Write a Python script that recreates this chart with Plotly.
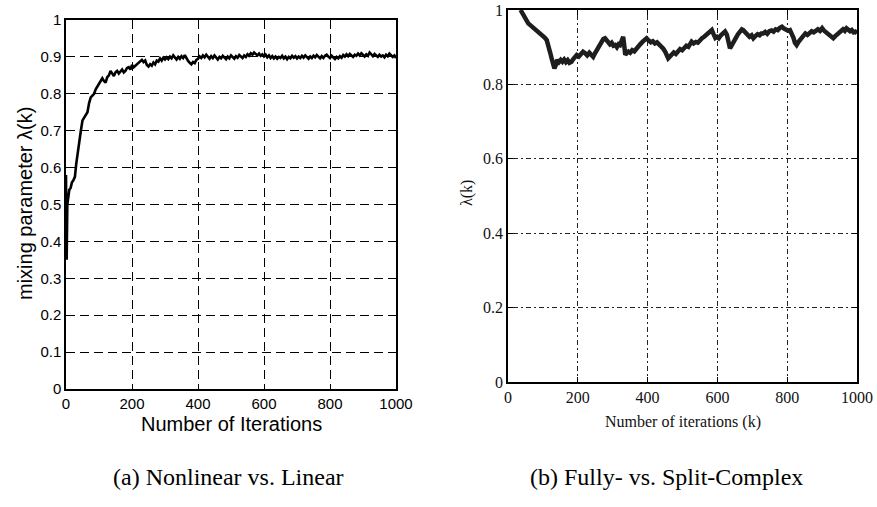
import plotly.graph_objects as go

# ---------------- data: (a) Nonlinear vs. Linear ----------------
left_k = [0, 2, 4, 7, 10, 14, 18, 22, 27, 31, 35, 40, 45, 50, 55, 60, 65, 70, 75, 80,
          85, 90, 95, 100, 105, 110, 115, 120, 125, 130, 135, 140, 145, 150, 155, 160,
          165, 170, 175, 180, 185, 190, 195, 200, 205, 210, 215, 220, 225, 230, 235,
          240, 245, 250, 255, 260, 265, 270, 275, 280, 285, 290, 295, 300,
          305, 310, 315, 320, 325, 330, 335, 340, 345, 350, 355, 360, 365, 370, 375,
          380, 385, 390, 395, 400, 405, 410, 415, 420, 425, 430, 435, 440, 445, 450,
          455, 460, 465, 470, 475, 480, 485, 490, 495, 500, 505, 510, 515, 520, 525,
          530, 535, 540, 545, 550, 555, 560, 565, 570, 575, 580, 585, 590, 595, 600,
          605, 610, 615, 620, 625, 630, 635, 640, 645, 650, 655, 660, 665, 670, 675,
          680, 685, 690, 695, 700, 705, 710, 715, 720, 725, 730, 735, 740, 745, 750,
          755, 760, 765, 770, 775, 780, 785, 790, 795, 800, 805, 810, 815, 820, 825,
          830, 835, 840, 845, 850, 855, 860, 865, 870, 875, 880, 885, 890, 895, 900,
          905, 910, 915, 920, 925, 930, 935, 940, 945, 950, 955, 960, 965, 970, 975,
          980, 985, 990, 995, 1000]
left_val = [0.58, 0.35, 0.50, 0.52, 0.54, 0.545, 0.56, 0.565, 0.575, 0.61, 0.64, 0.67, 0.70,
            0.728, 0.735, 0.742, 0.75, 0.775, 0.79, 0.795, 0.80, 0.812, 0.82, 0.826, 0.838,
            0.842, 0.835, 0.83, 0.845, 0.85, 0.862, 0.855, 0.848, 0.858, 0.862, 0.855,
            0.86, 0.866, 0.858, 0.862, 0.87, 0.872, 0.866, 0.878, 0.872, 0.876, 0.88,
            0.884, 0.888, 0.892, 0.886, 0.89, 0.878, 0.874, 0.88, 0.876, 0.885, 0.88,
            0.89, 0.887, 0.896, 0.89, 0.898, 0.893,
            0.899, 0.894, 0.901, 0.896, 0.904, 0.898, 0.893, 0.900, 0.895, 0.902, 0.897,
            0.905, 0.896, 0.889, 0.884, 0.880, 0.886, 0.883, 0.892, 0.895, 0.901, 0.897,
            0.904, 0.899, 0.906, 0.900, 0.895, 0.902, 0.897, 0.904, 0.898, 0.893, 0.900,
            0.896, 0.903, 0.898, 0.894, 0.901, 0.896, 0.904, 0.899, 0.895, 0.902, 0.898,
            0.905, 0.901, 0.897, 0.904, 0.900, 0.907, 0.903, 0.910, 0.906, 0.912, 0.908,
            0.904, 0.909, 0.903, 0.907, 0.901, 0.906, 0.899, 0.904, 0.897, 0.902, 0.896,
            0.901, 0.895, 0.900, 0.897, 0.903, 0.896, 0.901, 0.894, 0.900, 0.896, 0.903,
            0.898, 0.902, 0.896, 0.901, 0.897, 0.903, 0.898, 0.904, 0.899, 0.895, 0.901,
            0.897, 0.903, 0.899, 0.905, 0.900, 0.896, 0.902, 0.897, 0.903, 0.906, 0.901,
            0.897, 0.903, 0.898, 0.894, 0.900, 0.896, 0.902, 0.898, 0.905, 0.901, 0.907,
            0.902, 0.908, 0.904, 0.900, 0.906, 0.903, 0.909, 0.904, 0.910, 0.905, 0.901,
            0.907, 0.903, 0.912, 0.906, 0.902, 0.908, 0.903, 0.900, 0.906, 0.901, 0.904,
            0.899, 0.906, 0.902, 0.909, 0.903, 0.900, 0.904, 0.897]

# ---------------- data: (b) Fully- vs. Split-Complex ----------------
right_k = [36, 42, 48, 54, 58, 63, 68, 74, 80, 87, 93, 99, 105, 111, 116, 121, 125, 129,
           133, 137, 141, 146, 151, 156, 161, 166, 171, 176, 182, 187, 192, 197, 203,
           209, 215, 221, 227, 233, 238, 244, 250, 256, 262, 268, 273, 278, 283, 287,
           292, 297, 302, 307, 312, 317, 321, 326, 330, 333, 336, 340, 345, 350, 356,
           362, 368, 374, 380, 386, 392, 397, 403, 409, 415, 421, 427, 433, 439, 445,
           451, 455, 459, 464, 469, 475, 481, 487, 493, 499, 505, 511, 517, 522, 526,
           532, 538, 544, 550, 556, 562, 568, 574, 579, 584, 589, 594, 599, 604, 610,
           616, 622, 627, 631, 636, 641, 647, 653, 659, 665, 670, 674, 680, 686, 692,
           698, 703, 709, 715, 721, 726, 731, 737, 743, 749, 755, 761, 767, 773, 779,
           785, 791, 797, 803, 808, 813, 818, 822, 827, 833, 839, 846, 852, 858, 864,
           870, 876, 882, 888, 894, 900, 905, 911, 917, 923, 928, 932, 937, 943, 949,
           955, 960, 965, 970, 975, 980, 985, 990, 995, 1000]
right_val = [1.000, 0.990, 0.978, 0.970, 0.964, 0.960, 0.956, 0.952, 0.948, 0.942, 0.938,
             0.932, 0.926, 0.919, 0.905, 0.885, 0.870, 0.858, 0.843, 0.852, 0.866, 0.860,
             0.866, 0.861, 0.867, 0.860, 0.865, 0.858, 0.861, 0.868, 0.872, 0.879, 0.875,
             0.882, 0.888, 0.884, 0.878, 0.885, 0.880, 0.874, 0.885, 0.895, 0.905, 0.915,
             0.922, 0.924, 0.918, 0.915, 0.908, 0.912, 0.904, 0.906, 0.900, 0.908, 0.906,
             0.918, 0.928, 0.905, 0.880, 0.884, 0.888, 0.885, 0.892, 0.889, 0.897, 0.903,
             0.909, 0.915, 0.920, 0.924, 0.918, 0.913, 0.916, 0.910, 0.913, 0.908, 0.903,
             0.896, 0.887, 0.879, 0.870, 0.875, 0.881, 0.886, 0.882, 0.890, 0.895, 0.892,
             0.899, 0.904, 0.901, 0.910, 0.915, 0.910, 0.914, 0.912, 0.920, 0.924, 0.928,
             0.933, 0.938, 0.944, 0.946, 0.935, 0.925, 0.928, 0.924, 0.932, 0.938, 0.942,
             0.934, 0.915, 0.897, 0.905, 0.913, 0.925, 0.935, 0.944, 0.948, 0.946, 0.940,
             0.933, 0.928, 0.932, 0.924, 0.930, 0.935, 0.932, 0.937, 0.937, 0.941, 0.936,
             0.943, 0.945, 0.942, 0.948, 0.946, 0.952, 0.955, 0.950, 0.947, 0.944, 0.946,
             0.938, 0.925, 0.912, 0.906, 0.915, 0.922, 0.930, 0.937, 0.933, 0.939, 0.943,
             0.940, 0.946, 0.948, 0.944, 0.951, 0.945, 0.940, 0.934, 0.930, 0.926, 0.924,
             0.929, 0.935, 0.940, 0.945, 0.948, 0.944, 0.951, 0.947, 0.943, 0.946, 0.940,
             0.942, 0.937]

left_xticks = [0, 200, 400, 600, 800, 1000]
left_yticks = [0, 0.1, 0.2, 0.3, 0.4, 0.5, 0.6, 0.7, 0.8, 0.9, 1]
left_ytext = ["0", "0.1", "0.2", "0.3", "0.4", "0.5", "0.6", "0.7", "0.8", "0.9", "1"]
right_xticks = [0, 200, 400, 600, 800, 1000]
right_yticks = [0, 0.2, 0.4, 0.6, 0.8, 1]
right_ytext = ["0", "0.2", "0.4", "0.6", "0.8", "1"]

W, H = 877, 507

def px_x(a, b):
    return [a / W, b / W]

def px_y(top, bottom):
    return [1 - bottom / H, 1 - top / H]

fig = go.Figure()
fig.add_trace(go.Scatter(x=left_k, y=left_val, mode="lines",
                         line=dict(color="black", width=2.6), xaxis="x", yaxis="y",
                         showlegend=False, hoverinfo="skip"))
fig.add_trace(go.Scatter(x=right_k, y=right_val, mode="lines",
                         line=dict(color="#1e1e1e", width=4.5), xaxis="x2", yaxis="y2",
                         showlegend=False, hoverinfo="skip"))

sans = "Liberation Sans, Arial, sans-serif"
serif = "Liberation Serif, Times New Roman, serif"

common = dict(showline=True, linecolor="black", mirror="ticks", ticks="inside",
              ticklen=5, tickcolor="black", zeroline=False, showgrid=True,
              automargin=False)


def note(text, x, y, size, family, color="black", angle=0):
    return dict(text=text, x=x / W, y=1 - y / H, xref="paper", yref="paper",
                xanchor="center", yanchor="middle", showarrow=False, textangle=angle,
                font=dict(family=family, size=size, color=color))


fig.update_layout(
    width=W, height=H, margin=dict(l=0, r=0, t=0, b=0, pad=0), autosize=False,
    paper_bgcolor="white", plot_bgcolor="white",
    xaxis=dict(domain=px_x(66, 396), range=[0, 1000], tickvals=left_xticks,
               gridcolor="black", griddash="9px,5px", gridwidth=1, linewidth=1.5,
               tickfont=dict(family=sans, size=15, color="black"), anchor="y", **common),
    yaxis=dict(domain=px_y(20, 389), range=[0, 1], tickvals=left_yticks, ticktext=left_ytext,
               gridcolor="black", griddash="9px,5px", gridwidth=1, linewidth=1.5,
               tickfont=dict(family=sans, size=15, color="black"), anchor="x", **common),
    xaxis2=dict(domain=px_x(508, 857), range=[0, 1000], tickvals=right_xticks,
                gridcolor="#222", griddash="2px,3px,5px,3px", gridwidth=1.2, linewidth=1.5,
                tickfont=dict(family=serif, size=16, color="#111"), anchor="y2", **common),
    yaxis2=dict(domain=px_y(10, 382), range=[0, 1], tickvals=right_yticks, ticktext=right_ytext,
                gridcolor="#222", griddash="2px,3px,5px,3px", gridwidth=1.2, linewidth=1.5,
                tickfont=dict(family=serif, size=16, color="#111"), anchor="x2", **common),
    annotations=[
        note("Number of Iterations", 231, 424, 20, sans),
        note("mixing parameter λ(k)", 25, 204, 20, sans, angle=-90),
        note("Number of iterations (k)", 683, 422, 16, serif, "#111"),
        note("λ(k)", 467, 193, 16, serif, "#111", angle=-90),
        note("(a) Nonlinear vs. Linear", 228, 477, 24, serif),
        note("(b) Fully- vs. Split-Complex", 666, 477, 24, serif),
    ],
)

fig.write_html(
    "out.html",
    config={"displayModeBar": False},
    post_script="document.body.style.margin='0';document.body.style.padding='0';"
                "document.body.style.overflow='hidden';",
)
